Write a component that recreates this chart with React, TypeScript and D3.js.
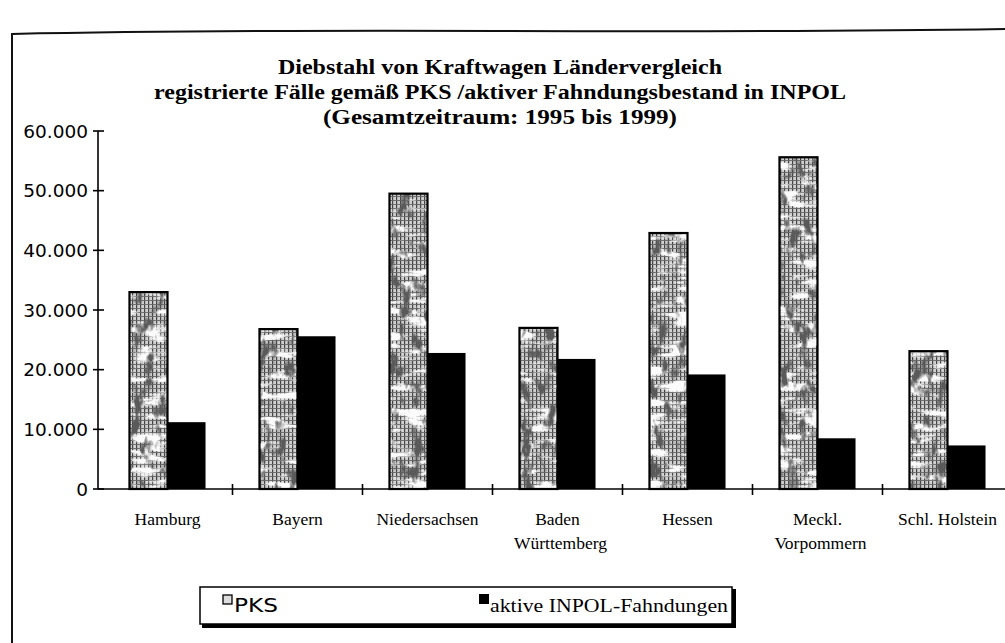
import React from "react";
import * as d3 from "d3";

const categories = [
  ["Hamburg"],
  ["Bayern"],
  ["Niedersachsen"],
  ["Baden", "Württemberg"],
  ["Hessen"],
  ["Meckl.", "Vorpommern"],
  ["Schl. Holstein"],
];
const categoryKeys = categories.map((c) => c.join(" "));
const pksValues = [33000, 26800, 49500, 27000, 42900, 55600, 23100];
const inpolValues = [11200, 25600, 22800, 21800, 19200, 8500, 7300];
const seriesNames = ["PKS", "aktive INPOL-Fahndungen"];
const yTicks = [0, 10000, 20000, 30000, 40000, 50000, 60000];
const titleLines = [
  "Diebstahl von Kraftwagen Ländervergleich",
  "registrierte Fälle gemäß PKS /aktiver Fahndungsbestand in INPOL",
  "(Gesamtzeitraum: 1995 bis 1999)",
];

const W = 1005;
const H = 643;

export default function App() {
  const x = d3
    .scaleBand<string>()
    .domain(categoryKeys)
    .range([102.5, 1012.5])
    .paddingInner(0.415)
    .paddingOuter(0.2075);
  const sub = d3
    .scaleBand<string>()
    .domain(["PKS", "INPOL"])
    .range([0, x.bandwidth()]);
  const y = d3.scaleLinear().domain([0, 60000]).range([489, 131]);
  const de = d3.formatLocale({
    decimal: ",",
    thousands: ".",
    grouping: [3],
    currency: ["", " €"],
  });
  const fmt = de.format(",");
  const step = x.step();
  const boundaries = categoryKeys
    .slice(1)
    .map((k) => (x(k) as number) - (step - x.bandwidth()) / 2);

  const serif = "'Liberation Serif', 'Times New Roman', serif";
  const sans = "'DejaVu Sans', sans-serif";
  const titleWidths = [444, 692, 354];

  return (
    <svg
      width={W}
      height={H}
      style={{ position: "absolute", left: 0, top: 0, background: "#fff" }}
    >
      <defs>
        <pattern id="grid" width="4" height="4" patternUnits="userSpaceOnUse">
          <rect width="4" height="4" fill="#cfcfcf" />
          <rect x="0" y="0" width="1.2" height="4" fill="#444" />
          <rect x="0" y="0" width="4" height="0.9" fill="#666" />
        </pattern>
        <filter id="darkNoise" x="0" y="0" width="100%" height="100%">
          <feTurbulence type="fractalNoise" baseFrequency="0.09 0.05" numOctaves="3" seed="7" result="t" />
          <feColorMatrix
            in="t"
            type="matrix"
            values="0 0 0 0 0.1  0 0 0 0 0.1  0 0 0 0 0.1  5 0 0 0 -2.6"
            result="a"
          />
          <feComposite in="a" in2="SourceGraphic" operator="in" />
        </filter>
        <filter id="lightNoise" x="0" y="0" width="100%" height="100%">
          <feTurbulence type="fractalNoise" baseFrequency="0.03 0.12" numOctaves="3" seed="21" result="t" />
          <feColorMatrix
            in="t"
            type="matrix"
            values="0 0 0 0 0.97  0 0 0 0 0.97  0 0 0 0 0.97  0 6 0 0 -3.0"
            result="a"
          />
          <feComposite in="a" in2="SourceGraphic" operator="in" />
        </filter>
      </defs>

      {/* outer frame */}
      <path d="M12,643 L12,34 Q200,30 500,31 T1005,29" fill="none" stroke="#111" strokeWidth={2} />

      {/* title */}
      {titleLines.map((t, i) => (
        <text
          key={i}
          x={500}
          y={74 + i * 25}
          textAnchor="middle"
          fontFamily={serif}
          fontWeight="bold"
          fontSize={20}
          textLength={titleWidths[i]}
          lengthAdjust="spacingAndGlyphs"
          fill="#000"
        >
          {t}
        </text>
      ))}

      {/* bars */}
      {categoryKeys.map((k, i) => {
        const x0 = x(k) as number;
        const px = x0 + (sub("PKS") as number);
        const py = y(pksValues[i]);
        const ph = y(0) - y(pksValues[i]);
        return (
          <g key={k}>
            <rect x={px} y={py} width={sub.bandwidth()} height={ph} fill="url(#grid)" />
            <rect x={px} y={py} width={sub.bandwidth()} height={ph} fill="#fff" filter="url(#lightNoise)" />
            <rect x={px} y={py} width={sub.bandwidth()} height={ph} fill="#000" filter="url(#darkNoise)" />
            <rect x={px} y={py} width={sub.bandwidth()} height={ph} fill="none" stroke="#000" strokeWidth={2.2} />
            <rect
              x={x0 + (sub("INPOL") as number)}
              y={y(inpolValues[i])}
              width={sub.bandwidth()}
              height={y(0) - y(inpolValues[i])}
              fill="#000"
            />
          </g>
        );
      })}

      {/* y axis */}
      <line x1={98} x2={98} y1={y(60000)} y2={y(0)} stroke="#000" strokeWidth={1.6} />
      {yTicks.map((t) => (
        <g key={t}>
          <line x1={93} x2={104} y1={y(t)} y2={y(t)} stroke="#000" strokeWidth={1.6} />
          <text
            x={88}
            y={y(t)}
            dy="0.36em"
            textAnchor="end"
            fontFamily={sans}
            fontSize={18.5}
            fill="#000"
          >
            {fmt(t)}
          </text>
        </g>
      ))}

      {/* x axis */}
      <line x1={98} x2={W} y1={y(0)} y2={y(0)} stroke="#000" strokeWidth={1.6} />
      {boundaries.map((b, i) => (
        <line key={i} x1={b} x2={b} y1={y(0) - 5} y2={y(0) + 6} stroke="#000" strokeWidth={1.6} />
      ))}
      {categories.map((lines, i) => {
        const cx = (x(categoryKeys[i]) as number) + x.bandwidth() / 2;
        return (
          <text key={i} textAnchor="middle" fontFamily={serif} fontSize={17.5} fill="#000">
            {lines.map((l, j) => (
              <tspan key={j} x={cx + (j === 1 ? 3 : 0)} y={525 + j * 24}>
                {l}
              </tspan>
            ))}
          </text>
        );
      })}

      {/* legend */}
      <rect x={202} y={589} width={534} height={39} fill="#000" />
      <rect x={200} y={587} width={532} height={37} fill="#fff" stroke="#000" strokeWidth={1.5} />
      <rect x={223} y={595} width={9} height={9} fill="#ddd" stroke="#000" strokeWidth={1.3} />
      <text x={234} y={612} fontFamily={sans} fontSize={19} fill="#000" textLength={44} lengthAdjust="spacingAndGlyphs">
        {seriesNames[0]}
      </text>
      <rect x={479} y={594} width={10} height={10} fill="#000" />
      <text
        x={490}
        y={612}
        fontFamily={serif}
        fontSize={19}
        fill="#000"
        textLength={238}
        lengthAdjust="spacingAndGlyphs"
      >
        {seriesNames[1]}
      </text>
    </svg>
  );
}
